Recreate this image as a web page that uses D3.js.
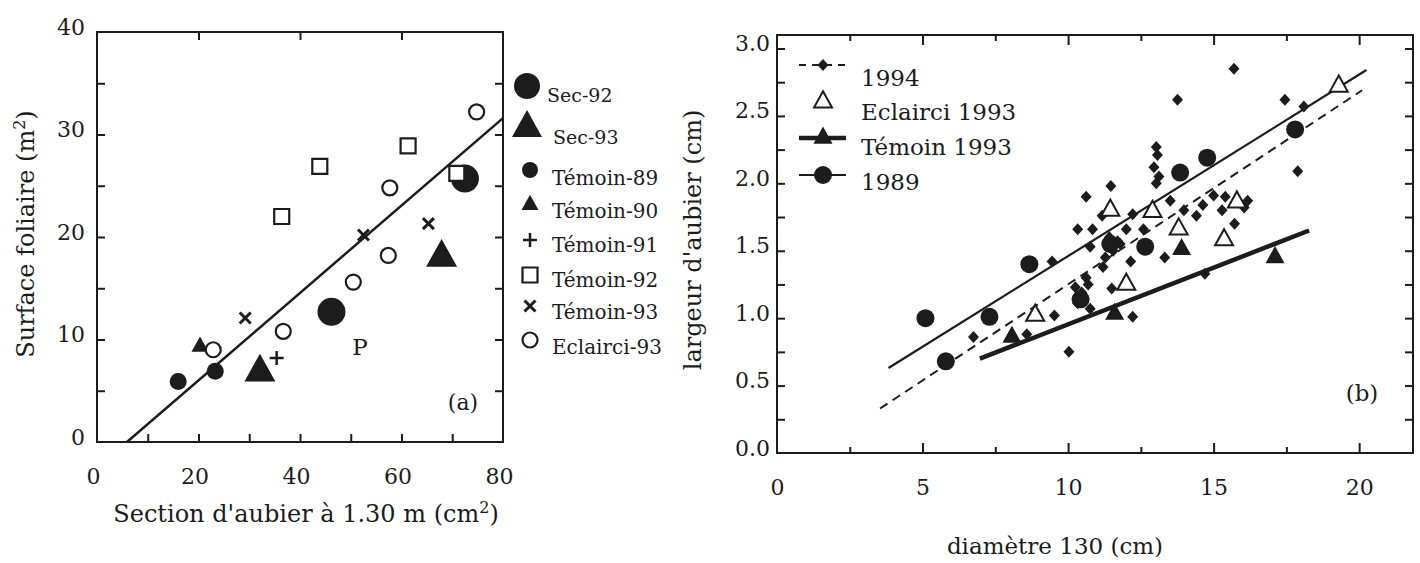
<!DOCTYPE html>
<html>
<head>
<meta charset="utf-8">
<script src="https://cdn.jsdelivr.net/npm/d3@7"></script>
<style>
  html, body { margin: 0; padding: 0; background: #fff; }
  svg { display: block; font-family: "DejaVu Serif", serif; }
  text { fill: #1c1c1c; }
</style>
</head>
<body>
<svg id="fig" width="1420" height="563"></svg>
<script>
// ---------- Panel (a): leaf area against sapwood section ----------
const sec92      = [[46.2, 12.7], [72.5, 25.7]];
const sec93      = [[32.1, 6.8], [67.9, 18.0]];
const temoin89   = [[16.0, 5.9], [23.3, 6.9]];
const temoin90   = [[20.3, 9.3]];
const temoin91   = [[35.4, 8.2]];
const temoin92   = [[36.4, 22.0], [43.9, 26.9], [61.3, 28.9], [70.9, 26.2]];
const temoin93   = [[29.2, 12.1], [52.5, 20.2], [65.3, 21.3]];
const eclairci93 = [[22.9, 9.0], [36.7, 10.8], [50.5, 15.6], [57.4, 18.2], [57.7, 24.8], [74.8, 32.2]];
const fitA       = [[5.9, 0], [80, 31.6]];
const xTicksA    = [0, 20, 40, 60, 80];
const yTicksA    = [0, 10, 20, 30, 40];
const legendA    = ["Sec-92", "Sec-93", "Témoin-89", "Témoin-90", "Témoin-91", "Témoin-92", "Témoin-93", "Eclairci-93"];

// ---------- Panel (b): sapwood width against diameter ----------
const d1994 = [
  [15.70, 2.85], [13.76, 2.62], [17.45, 2.62], [18.10, 2.57], [17.89, 2.09],
  [13.03, 2.27], [13.07, 2.21], [12.95, 2.12], [13.03, 2.00], [13.12, 2.05],
  [11.47, 1.98], [10.62, 1.90], [13.51, 1.87], [12.22, 1.77], [11.17, 1.76],
  [10.33, 1.66], [10.84, 1.66], [12.00, 1.66], [12.59, 1.66], [13.98, 1.80],
  [14.41, 1.76], [15.00, 1.91], [15.40, 1.90], [15.29, 1.80], [16.17, 1.87],
  [15.72, 1.70], [16.05, 1.82], [14.63, 1.84], [10.76, 1.53], [11.28, 1.45],
  [11.42, 1.60], [11.55, 1.50], [11.70, 1.57], [11.79, 1.55], [12.15, 1.42],
  [13.32, 1.45], [9.45, 1.42], [11.20, 1.38], [10.62, 1.30], [10.25, 1.23],
  [10.69, 1.25], [10.47, 1.19], [10.33, 1.11], [10.76, 1.07], [11.50, 1.22],
  [9.53, 1.02], [12.22, 1.01], [10.03, 0.75], [6.75, 0.86], [8.58, 0.88],
  [14.70, 1.33]
];
const e1993 = [[8.87, 1.02], [11.45, 1.80], [12.00, 1.25], [12.90, 1.79], [13.80, 1.66], [15.36, 1.58], [15.80, 1.86], [19.30, 2.72]];
const t1993 = [[8.07, 0.86], [11.60, 1.03], [13.90, 1.51], [17.11, 1.45]];
const c1989 = [[5.10, 1.00], [5.80, 0.68], [7.30, 1.01], [8.67, 1.40], [10.43, 1.14], [11.45, 1.55], [12.65, 1.53], [13.85, 2.08], [14.78, 2.19], [17.80, 2.40]];
const fit1994  = [[3.54, 0.33], [20.10, 2.69]];
const fit1989  = [[3.83, 0.63], [20.25, 2.84]];
const fitT1993 = [[6.97, 0.70], [18.28, 1.65]];
const xTicksB  = [0, 5, 10, 15, 20];
const yTicksB  = [0, 0.5, 1.0, 1.5, 2.0, 2.5, 3.0];
const legendB  = ["1994", "Eclairci 1993", "Témoin 1993", "1989"];

const INK = "#1c1c1c";
const svg = d3.select("#fig");

// marker shapes, centred on the origin
const shapes = {
  circle:   r => d3.symbol(d3.symbolCircle, Math.PI * r * r)(),
  triangle: w => { const h = w * 0.9; return `M0,${-h * 2 / 3}L${w / 2},${h / 3}L${-w / 2},${h / 3}Z`; },
  diamond:  (w, h) => `M0,${-h / 2}L${w / 2},0L0,${h / 2}L${-w / 2},0Z`,
  plus:     s => `M${-s / 2},0H${s / 2}M0,${-s / 2}V${s / 2}`,
  cross:    s => `M${-s / 2},${-s / 2}L${s / 2},${s / 2}M${s / 2},${-s / 2}L${-s / 2},${s / 2}`,
  square:   s => `M${-s / 2},${-s / 2}H${s / 2}V${s / 2}H${-s / 2}Z`
};

function markers(g, data, x, y, path, style) {
  g.append("g").selectAll("path").data(data).join("path")
    .attr("d", path)
    .attr("transform", d => `translate(${x(d[0])},${y(d[1])})`)
    .attr("fill", style.fill)
    .attr("stroke", style.stroke || "none")
    .attr("stroke-width", style.sw || 0);
}

function fitLine(g, pts, x, y, sw, dash) {
  g.append("path")
    .attr("d", d3.line().x(d => x(d[0])).y(d => y(d[1]))(pts))
    .attr("fill", "none").attr("stroke", INK)
    .attr("stroke-width", sw)
    .attr("stroke-dasharray", dash || null);
}

function tickAxis(g, axis, tx, ty) {
  const a = g.append("g").attr("transform", `translate(${tx},${ty})`).call(axis);
  a.select(".domain").remove();
  a.selectAll("line").attr("stroke", INK).attr("stroke-width", 2);
  a.selectAll("text").remove();
}

function labelAxis(g, axis, tx, ty, size) {
  const a = g.append("g").attr("transform", `translate(${tx},${ty})`).call(axis);
  a.select(".domain").remove();
  a.selectAll("line").remove();
  a.selectAll("text").attr("fill", INK).style("font-size", size + "px").style("font-family", "DejaVu Serif");
  return a;
}

// ================= Panel (a) =================
{
  const x = d3.scaleLinear().domain([0, 80]).range([97, 503]);
  const y = d3.scaleLinear().domain([0, 40]).range([442, 32]);
  const g = svg.append("g");

  // inward ticks on the four sides
  tickAxis(g, d3.axisBottom(x).tickValues(d3.range(10, 80, 10)).tickSize(-8), 0, y(0));
  tickAxis(g, d3.axisTop(x).tickValues([20, 40, 60]).tickSize(-8), 0, y(40));
  tickAxis(g, d3.axisLeft(y).tickValues(d3.range(5, 40, 5)).tickSize(-8), x(0), 0);
  tickAxis(g, d3.axisRight(y).tickValues(d3.range(5, 40, 5)).tickSize(-8), x(80), 0);

  g.append("rect").attr("x", x(0)).attr("y", y(40))
    .attr("width", x(80) - x(0)).attr("height", y(0) - y(40))
    .attr("fill", "none").attr("stroke", INK).attr("stroke-width", 2);

  labelAxis(g, d3.axisBottom(x).tickValues(xTicksA).tickSize(0).tickPadding(26), -4, y(0), 22);
  labelAxis(g, d3.axisLeft(y).tickValues(yTicksA).tickSize(0).tickPadding(12), x(0), -5, 22);

  g.append("text").attr("x", 306).attr("y", 514).attr("dy", "0.35em")
    .attr("text-anchor", "middle").style("font-size", "24px")
    .html('Section d\'aubier à 1.30 m (cm<tspan dy="-9" font-size="16">2</tspan><tspan dy="9">)</tspan>');
  g.append("text").attr("transform", "translate(26,234) rotate(-90)").attr("dy", "0.35em")
    .attr("text-anchor", "middle").style("font-size", "24px")
    .html('Surface foliaire (m<tspan dy="-9" font-size="16">2</tspan><tspan dy="9">)</tspan>');

  fitLine(g, fitA, x, y, 2.5);

  markers(g, sec92, x, y, shapes.circle(14), { fill: INK });
  markers(g, sec93, x, y, shapes.triangle(31), { fill: INK });
  markers(g, temoin89, x, y, shapes.circle(8.5), { fill: INK });
  markers(g, temoin90, x, y, shapes.triangle(17), { fill: INK });
  markers(g, temoin91, x, y, shapes.plus(14), { fill: "none", stroke: INK, sw: 2.5 });
  markers(g, temoin92, x, y, shapes.square(15), { fill: "#fff", stroke: INK, sw: 2.2 });
  markers(g, temoin93, x, y, shapes.cross(11), { fill: "none", stroke: INK, sw: 3 });
  markers(g, eclairci93, x, y, shapes.circle(7.5), { fill: "#fff", stroke: INK, sw: 2.2 });

  g.append("text").attr("x", 360).attr("y", 347).attr("dy", "0.35em")
    .attr("text-anchor", "middle").style("font-size", "23px").text("P");
  g.append("text").attr("x", 463).attr("y", 402).attr("dy", "0.35em")
    .attr("text-anchor", "middle").style("font-size", "22px").text("(a)");

  // legend
  const rows = [
    { my: 86,  ty: 95,  path: shapes.circle(13),   st: { fill: INK } },
    { my: 128, ty: 137, path: shapes.triangle(30), st: { fill: INK } },
    { my: 170, ty: 178, path: shapes.circle(8),    st: { fill: INK } },
    { my: 205, ty: 211, path: shapes.triangle(17), st: { fill: INK } },
    { my: 240, ty: 245, path: shapes.plus(14),     st: { fill: "none", stroke: INK, sw: 2.5 } },
    { my: 275, ty: 280, path: shapes.square(15),   st: { fill: "#fff", stroke: INK, sw: 2.2 } },
    { my: 306, ty: 312, path: shapes.cross(11),    st: { fill: "none", stroke: INK, sw: 3 } },
    { my: 340, ty: 347, path: shapes.circle(7.5),  st: { fill: "#fff", stroke: INK, sw: 2.2 } }
  ];
  const lg = g.append("g");
  legendA.forEach((name, i) => {
    const r = rows[i];
    lg.append("path").attr("d", r.path).attr("transform", `translate(${i < 2 ? 527 : 530},${r.my})`)
      .attr("fill", r.st.fill).attr("stroke", r.st.stroke || "none").attr("stroke-width", r.st.sw || 0);
    lg.append("text").attr("x", i < 2 ? (i === 0 ? 547 : 553) : 552).attr("y", r.ty).attr("dy", "0.35em")
      .style("font-size", i < 2 ? "19px" : "20px").text(name);
  });
}

// ================= Panel (b) =================
{
  const x = d3.scaleLinear().domain([0, 21.85]).range([777, 1413]);
  const y = d3.scaleLinear().domain([0, 3.1]).range([453, 35]);
  const g = svg.append("g");

  const xMinor = d3.range(2.5, 21, 5), xMajor = [5, 10, 15, 20];
  tickAxis(g, d3.axisBottom(x).tickValues(xMajor).tickSize(-10), 0, y(0));
  tickAxis(g, d3.axisBottom(x).tickValues(xMinor).tickSize(-6), 0, y(0));
  tickAxis(g, d3.axisTop(x).tickValues(xMajor).tickSize(-10), 0, y(3.1));
  tickAxis(g, d3.axisTop(x).tickValues(xMinor).tickSize(-6), 0, y(3.1));
  const yT = d3.range(0.25, 3.01, 0.25);
  tickAxis(g, d3.axisLeft(y).tickValues(yT).tickSize(-8), x(0), 0);
  tickAxis(g, d3.axisRight(y).tickValues(yT).tickSize(-8), x(21.85), 0);

  g.append("rect").attr("x", x(0)).attr("y", y(3.1))
    .attr("width", x(21.85) - x(0)).attr("height", y(0) - y(3.1))
    .attr("fill", "none").attr("stroke", INK).attr("stroke-width", 2);

  labelAxis(g, d3.axisBottom(x).tickValues(xTicksB).tickSize(0).tickPadding(26), 0, y(0), 22);
  labelAxis(g, d3.axisLeft(y).tickValues(yTicksB).tickSize(0).tickPadding(7).tickFormat(d3.format(".1f")), x(0), -5, 22);

  g.append("text").attr("x", 1055).attr("y", 546).attr("dy", "0.35em")
    .attr("text-anchor", "middle").style("font-size", "23px").text("diamètre 130 (cm)");
  g.append("text").attr("transform", "translate(693,240) rotate(-90)").attr("dy", "0.35em")
    .attr("text-anchor", "middle").style("font-size", "24px").text("largeur d'aubier (cm)");

  fitLine(g, fit1994, x, y, 2, "9,6");
  fitLine(g, fit1989, x, y, 2.2);
  fitLine(g, fitT1993, x, y, 4.5);

  markers(g, c1989, x, y, shapes.circle(9), { fill: INK });
  markers(g, d1994, x, y, shapes.diamond(11, 12), { fill: INK });
  markers(g, e1993, x, y, shapes.triangle(18), { fill: "#fff", stroke: INK, sw: 2 });
  markers(g, t1993, x, y, shapes.triangle(19), { fill: INK });

  g.append("text").attr("x", 1362).attr("y", 393).attr("dy", "0.35em")
    .attr("text-anchor", "middle").style("font-size", "23px").text("(b)");

  // legend
  const lg = g.append("g");
  const rowsB = [
    { ly: 65,  ty: 78,  line: { sw: 2, dash: "7,6" }, path: shapes.diamond(11, 12), st: { fill: INK } },
    { ly: 102, ty: 112, line: null,                   path: shapes.triangle(18),    st: { fill: "#fff", stroke: INK, sw: 2 } },
    { ly: 138, ty: 147, line: { sw: 4.5 },            path: shapes.triangle(19),    st: { fill: INK } },
    { ly: 175, ty: 182, line: { sw: 2.2 },            path: shapes.circle(9),       st: { fill: INK } }
  ];
  legendB.forEach((name, i) => {
    const r = rowsB[i];
    if (r.line) {
      lg.append("line").attr("x1", 799).attr("x2", 846).attr("y1", r.ly).attr("y2", r.ly)
        .attr("stroke", INK).attr("stroke-width", r.line.sw).attr("stroke-dasharray", r.line.dash || null);
    }
    lg.append("path").attr("d", r.path).attr("transform", `translate(823,${r.ly})`)
      .attr("fill", r.st.fill).attr("stroke", r.st.stroke || "none").attr("stroke-width", r.st.sw || 0);
    lg.append("text").attr("x", 861).attr("y", r.ty).attr("dy", "0.35em")
      .style("font-size", "23px").text(name);
  });
}
</script>
</body>
</html>
